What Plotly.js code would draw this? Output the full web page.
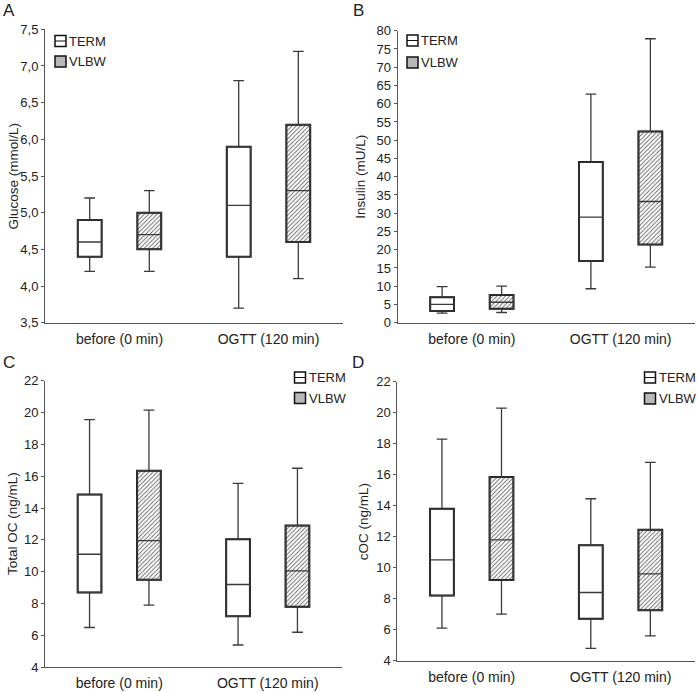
<!DOCTYPE html>
<html>
<head>
<meta charset="utf-8">
<script src="https://cdn.plot.ly/plotly-3.0.1.min.js"></script>
<style>html,body{margin:0;padding:0;background:#fff;}#chart{width:697px;height:692px;}</style>
</head>
<body>
<div id="chart"></div>
<script>
// ---- data ----
var categories = ['before (0 min)', 'OGTT (120 min)'];
var groups = ['TERM', 'VLBW'];

// Glucose (mmol/L)
var glucoseTermLow = [4.2, 3.7], glucoseTermQ1 = [4.4, 4.4], glucoseTermMed = [4.6, 5.1], glucoseTermQ3 = [4.9, 5.9], glucoseTermHigh = [5.2, 6.8];
var glucoseVlbwLow = [4.2, 4.1], glucoseVlbwQ1 = [4.5, 4.6], glucoseVlbwMed = [4.7, 5.3], glucoseVlbwQ3 = [5.0, 6.2], glucoseVlbwHigh = [5.3, 7.2];
// Insulin (mU/L)
var insulinTermLow = [2.6, 9.3], insulinTermQ1 = [3.2, 16.9], insulinTermMed = [5.0, 28.9], insulinTermQ3 = [7.0, 44.0], insulinTermHigh = [9.9, 62.6];
var insulinVlbwLow = [2.8, 15.2], insulinVlbwQ1 = [3.8, 21.4], insulinVlbwMed = [5.6, 33.2], insulinVlbwQ3 = [7.6, 52.4], insulinVlbwHigh = [10.0, 77.8];
// Total OC (ng/mL)
var tocTermLow = [6.5, 5.4], tocTermQ1 = [8.7, 7.2], tocTermMed = [11.1, 9.2], tocTermQ3 = [14.85, 12.05], tocTermHigh = [19.55, 15.55];
var tocVlbwLow = [7.9, 6.2], tocVlbwQ1 = [9.5, 7.8], tocVlbwMed = [11.95, 10.05], tocVlbwQ3 = [16.35, 12.9], tocVlbwHigh = [20.15, 16.5];
// cOC (ng/mL)
var cocTermLow = [6.1, 4.8], cocTermQ1 = [8.2, 6.7], cocTermMed = [10.5, 8.4], cocTermQ3 = [13.8, 11.45], cocTermHigh = [18.3, 14.45];
var cocVlbwLow = [7.0, 5.6], cocVlbwQ1 = [9.2, 7.25], cocVlbwMed = [11.8, 9.6], cocVlbwQ3 = [15.85, 12.45], cocVlbwHigh = [20.3, 16.8];

var panelLetters = ['A', 'B', 'C', 'D'];
var yTitles = ['Glucose (mmol/L)', 'Insulin (mU/L)', 'Total OC (ng/mL)', 'cOC (ng/mL)'];

// ---- build ----
var W = 697, H = 692;
function px(x) { return x / W; }
function py(y) { return 1 - y / H; }

var panels = [
  {ax: '', term: [glucoseTermLow, glucoseTermQ1, glucoseTermMed, glucoseTermQ3, glucoseTermHigh],
   vlbw: [glucoseVlbwLow, glucoseVlbwQ1, glucoseVlbwMed, glucoseVlbwQ3, glucoseVlbwHigh]},
  {ax: '2', term: [insulinTermLow, insulinTermQ1, insulinTermMed, insulinTermQ3, insulinTermHigh],
   vlbw: [insulinVlbwLow, insulinVlbwQ1, insulinVlbwMed, insulinVlbwQ3, insulinVlbwHigh]},
  {ax: '3', term: [tocTermLow, tocTermQ1, tocTermMed, tocTermQ3, tocTermHigh],
   vlbw: [tocVlbwLow, tocVlbwQ1, tocVlbwMed, tocVlbwQ3, tocVlbwHigh]},
  {ax: '4', term: [cocTermLow, cocTermQ1, cocTermMed, cocTermQ3, cocTermHigh],
   vlbw: [cocVlbwLow, cocVlbwQ1, cocVlbwMed, cocVlbwQ3, cocVlbwHigh]}
];

var BOXW = 0.16, OFF = 0.2;
var traces = [];
panels.forEach(function (p) {
  [['TERM', p.term, -OFF], ['VLBW', p.vlbw, OFF]].forEach(function (g) {
    var s = g[1];
    var hatched = g[0] === 'VLBW';
    traces.push({
      type: 'bar', x: categories, base: s[1],
      y: s[3].map(function (v, i) { return v - s[1][i]; }),
      width: BOXW, offset: g[2] - BOXW / 2,
      xaxis: 'x' + p.ax, yaxis: 'y' + p.ax, showlegend: false, hoverinfo: 'skip',
      marker: {
        color: '#ffffff',
        line: {color: '#111', width: 2},
        pattern: hatched ? {shape: '/', size: 3, solidity: 0.3, fgcolor: '#666', bgcolor: '#ffffff'} : {shape: ''}
      }
    });
    traces.push({
      type: 'box', name: g[0], x: categories,
      lowerfence: s[0], q1: s[1], median: s[2], q3: s[3], upperfence: s[4],
      xaxis: 'x' + p.ax, yaxis: 'y' + p.ax, showlegend: false,
      offsetgroup: g[0], alignmentgroup: 'bx',
      fillcolor: 'rgba(0,0,0,0)', whiskerwidth: 0.45,
      line: {color: '#3a3a3a', width: 1.3}
    });
  });
});

var font = {family: 'Liberation Sans, Arial, sans-serif', size: 13, color: '#222'};
var xfont = {family: font.family, size: 14, color: '#222'};
function xa(domain) {
  return {domain: domain, type: 'category', range: [-0.5, 1.5], showline: true, linecolor: '#555', linewidth: 1,
    ticks: '', ticklabelstandoff: 3, showgrid: false, zeroline: false, tickfont: xfont, fixedrange: true};
}
function ya(domain, range, dtick, fmt) {
  return {domain: domain, range: range, dtick: dtick, tick0: range[0], tickformat: fmt, showline: true,
    linecolor: '#555', linewidth: 1, ticks: 'outside', ticklen: 3, tickcolor: '#555', tickwidth: 1,
    showgrid: false, zeroline: false, tickfont: font, fixedrange: true};
}

// panel geometry in pixels: [left, right, top, bottom]
var geo = [[45, 343, 29.3, 322.7], [397.5, 695, 30.7, 322.7], [45, 342, 380.7, 667.3], [397.3, 695, 381.7, 660.7]];

var layout = {
  width: W, height: H, margin: {l: 0, r: 0, t: 0, b: 0},
  paper_bgcolor: '#fff', plot_bgcolor: '#fff', showlegend: false,
  separators: ',.', barmode: 'overlay', boxmode: 'group', boxgap: 0.2, boxgroupgap: 0.6,
  font: font,
  xaxis: xa([px(geo[0][0]), px(geo[0][1])]),
  yaxis: ya([py(geo[0][3]), py(geo[0][2])], [3.5, 7.5], 0.5, '.1f'),
  xaxis2: xa([px(geo[1][0]), px(geo[1][1])]),
  yaxis2: ya([py(geo[1][3]), py(geo[1][2])], [0, 80], 5, 'd'),
  xaxis3: xa([px(geo[2][0]), px(geo[2][1])]),
  yaxis3: ya([py(geo[2][3]), py(geo[2][2])], [4, 22], 2, 'd'),
  xaxis4: xa([px(geo[3][0]), px(geo[3][1])]),
  yaxis4: ya([py(geo[3][3]), py(geo[3][2])], [4, 22], 2, 'd'),
  annotations: [], shapes: []
};
layout.xaxis2.anchor = 'y2'; layout.yaxis2.anchor = 'x2';
layout.xaxis3.anchor = 'y3'; layout.yaxis3.anchor = 'x3';
layout.xaxis4.anchor = 'y4'; layout.yaxis4.anchor = 'x4';

// panel letters and y titles
var letterPos = [[9, 11], [358, 11], [9, 363], [358, 362]];
var titleX = [12.5, 361, 12, 363];
for (var i = 0; i < 4; i++) {
  layout.annotations.push({xref: 'paper', yref: 'paper', x: px(letterPos[i][0]), y: py(letterPos[i][1]),
    text: panelLetters[i], showarrow: false, font: {family: font.family, size: 17, color: '#222'},
    xanchor: 'center', yanchor: 'middle'});
  layout.annotations.push({xref: 'paper', yref: 'paper', x: px(titleX[i]), y: py((geo[i][2] + geo[i][3]) / 2),
    text: yTitles[i], textangle: -90, showarrow: false, font: {family: font.family, size: 13.5, color: '#222'},
    xanchor: 'center', yanchor: 'middle'});
}

// legends: icon left x, TERM icon top y, VLBW icon top y
var legPos = [[55, 35.5, 56], [407, 35, 57], [294.5, 372, 392.5], [644.5, 372, 393]];
var S = 11;
legPos.forEach(function (l) {
  var x0 = l[0];
  [[l[1], groups[0], '#ffffff'], [l[2], groups[1], '#b8b8b8']].forEach(function (e, k) {
    layout.shapes.push({type: 'rect', xref: 'paper', yref: 'paper', x0: px(x0), x1: px(x0 + S),
      y0: py(e[0] + S), y1: py(e[0]), fillcolor: e[2], line: {color: '#111', width: 1.5}});
    if (k === 0) {
      layout.shapes.push({type: 'line', xref: 'paper', yref: 'paper', x0: px(x0), x1: px(x0 + S),
        y0: py(e[0] + S / 2), y1: py(e[0] + S / 2), line: {color: '#111', width: 1}});
    }
    layout.annotations.push({xref: 'paper', yref: 'paper', x: px(x0 + S + 1), y: py(e[0] + S / 2),
      text: e[1], showarrow: false, font: font, xanchor: 'left', yanchor: 'middle'});
  });
});

Plotly.newPlot('chart', traces, layout, {displayModeBar: false, staticPlot: true});
</script>
</body>
</html>
